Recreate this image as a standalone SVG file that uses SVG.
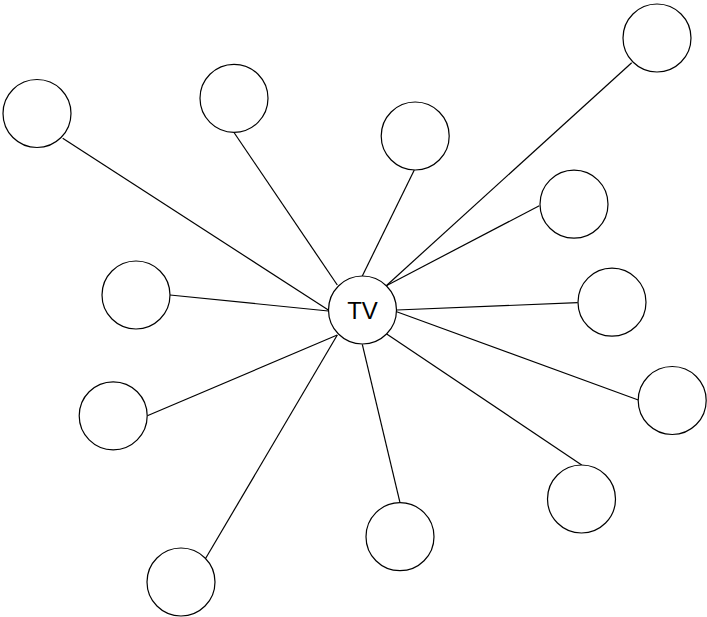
<svg xmlns="http://www.w3.org/2000/svg" width="707" height="617" viewBox="0 0 707 617">
<style>
.n{fill:#fff;stroke:#000;stroke-width:1.2}
.e{stroke:#000;stroke-width:1.2;fill:none}
.t{font-family:"Liberation Sans",Arial,sans-serif;font-size:24px;fill:#000;text-anchor:middle}
</style>
<rect width="707" height="617" fill="#fff"/>
<g id="connectors">
<line class="e" x1="62.7" y1="138.3" x2="328.3" y2="310"/>
<line class="e" x1="234" y1="132.5" x2="337.3" y2="285"/>
<line class="e" x1="414.3" y1="170" x2="362.3" y2="276"/>
<line class="e" x1="631.7" y1="62.7" x2="386.3" y2="285.7"/>
<line class="e" x1="539.3" y1="205.7" x2="386.3" y2="285.7"/>
<line class="e" x1="577.7" y1="302.7" x2="396.7" y2="310"/>
<line class="e" x1="638.3" y1="400" x2="396.7" y2="311.8"/>
<line class="e" x1="581.7" y1="465" x2="386.7" y2="334"/>
<line class="e" x1="400" y1="502.7" x2="362.3" y2="344.3"/>
<line class="e" x1="205.7" y1="558.3" x2="337.3" y2="335"/>
<line class="e" x1="147.3" y1="415.7" x2="337.3" y2="335"/>
<line class="e" x1="170" y1="295" x2="328.3" y2="311"/>
</g>
<g id="tv"><circle class="n" cx="362.5" cy="310" r="34"/><text class="t" x="362.5" y="319.3">TV</text></g>
<g id="n1"><circle class="n" cx="37" cy="113.5" r="34"/></g>
<g id="n2"><circle class="n" cx="234" cy="98.3" r="34"/></g>
<g id="n3"><circle class="n" cx="415.2" cy="136" r="34"/></g>
<g id="n4"><circle class="n" cx="657" cy="38" r="34"/></g>
<g id="n5"><circle class="n" cx="574" cy="204.2" r="34"/></g>
<g id="n6"><circle class="n" cx="612" cy="302.2" r="34"/></g>
<g id="n7"><circle class="n" cx="672.2" cy="400.5" r="34"/></g>
<g id="n8"><circle class="n" cx="581.5" cy="499" r="34"/></g>
<g id="n9"><circle class="n" cx="400" cy="536.7" r="34"/></g>
<g id="n10"><circle class="n" cx="181" cy="582" r="34"/></g>
<g id="n11"><circle class="n" cx="113.2" cy="415.8" r="34"/></g>
<g id="n12"><circle class="n" cx="136" cy="295" r="34"/></g>
</svg>
